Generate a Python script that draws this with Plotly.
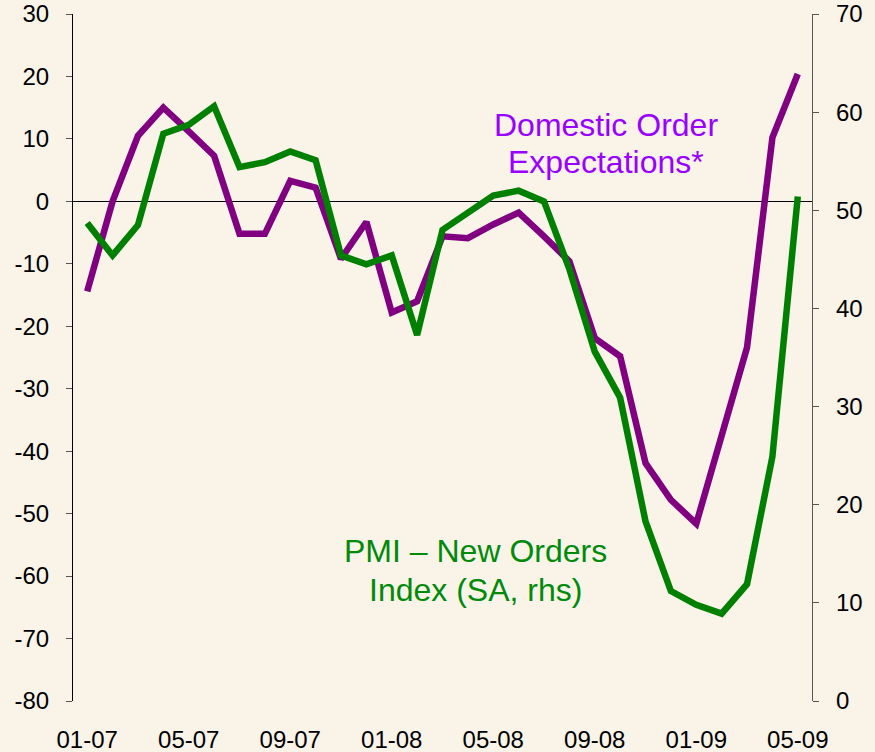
import plotly.graph_objects as go

months = ["01-07","02-07","03-07","04-07","05-07","06-07","07-07","08-07","09-07","10-07",
          "11-07","12-07","01-08","02-08","03-08","04-08","05-08","06-08","07-08","08-08",
          "09-08","10-08","11-08","12-08","01-09","02-09","03-09","04-09","05-09"]

domestic_expectations = [-14.4, 0.0, 10.5, 15.0, 11.2, 7.3, -5.2, -5.2, 3.3, 2.2,
                         -9.2, -3.3, -17.8, -16.0, -5.6, -5.9, -3.7, -1.8, -5.6, -9.6,
                         -21.9, -24.8, -41.9, -47.8, -51.6, -37.1, -23.4, 10.2, 20.4]

pmi_new_orders = [48.7, 45.4, 48.5, 57.8, 58.7, 60.6, 54.4, 54.9, 56.0, 55.1,
                  45.4, 44.5, 45.4, 37.3, 48.0, 49.8, 51.5, 52.0, 50.9, 44.0,
                  35.6, 30.9, 18.3, 11.2, 9.8, 8.9, 11.9, 24.9, 51.4]

tick_labels = ["01-07","05-07","09-07","01-08","05-08","09-08","01-09","05-09"]
left_ticks = [30, 20, 10, 0, -10, -20, -30, -40, -50, -60, -70, -80]
right_ticks = [70, 60, 50, 40, 30, 20, 10, 0]

x_idx = list(range(len(months)))
label_pos = [months.index(t) for t in tick_labels]
boundary_ticks = [p + 3.5 for p in label_pos[:-1]]

BG = "#F9F3E8"
FONT = "Arial, Liberation Sans, sans-serif"
PURPLE = "#800080"
GREEN = "#008000"

fig = go.Figure()
fig.add_trace(go.Scatter(x=x_idx, y=pmi_new_orders, mode="lines", yaxis="y2",
                         line=dict(color=GREEN, width=6.5), showlegend=False))
fig.add_trace(go.Scatter(x=x_idx, y=domestic_expectations, mode="lines",
                         line=dict(color=PURPLE, width=6.5), showlegend=False))

xr = [-0.56, 28.56]
fig.update_layout(
    width=875, height=752,
    paper_bgcolor=BG, plot_bgcolor=BG,
    margin=dict(l=73, r=63, t=14, b=51, autoexpand=False),
    font=dict(family=FONT, size=24, color="#000000"),
    xaxis=dict(range=xr, tickmode="array", tickvals=label_pos, ticktext=tick_labels,
               showgrid=False, zeroline=False, showline=False, ticks="",
               ticklabelstandoff=22, tickfont=dict(size=24), automargin=False),
    xaxis2=dict(range=xr, overlaying="x", anchor="free", position=80/110,
                tickmode="array", tickvals=boundary_ticks, showticklabels=False,
                ticks="outside", ticklen=7, tickcolor="#555555", tickwidth=1,
                showgrid=False, zeroline=False, showline=False, automargin=False),
    yaxis=dict(range=[-80, 30], tickmode="array", tickvals=left_ticks,
               ticktext=[str(v) for v in left_ticks], showgrid=False,
               zeroline=True, zerolinecolor="#000000", zerolinewidth=1.2,
               showline=True, linecolor="#000000", linewidth=1.2,
               ticks="outside", ticklen=6, tickcolor="#555555",
               ticklabelstandoff=12, tickfont=dict(size=24), automargin=False),
    yaxis2=dict(range=[0, 70], tickmode="array", tickvals=right_ticks,
                ticktext=[str(v) for v in right_ticks], overlaying="y", side="right",
                showgrid=False, zeroline=False,
                showline=True, linecolor="#555555", linewidth=1.2,
                ticks="outside", ticklen=6, tickcolor="#555555",
                ticklabelstandoff=12, tickfont=dict(size=24), automargin=False),
    annotations=[
        dict(text="Domestic Order", xref="paper", yref="paper", x=0.721, y=0.839,
             xanchor="center", yanchor="middle", showarrow=False,
             font=dict(size=32, color="#9900FF", family=FONT)),
        dict(text="Expectations*", xref="paper", yref="paper", x=0.721, y=0.785,
             xanchor="center", yanchor="middle", showarrow=False,
             font=dict(size=32, color="#9900FF", family=FONT)),
        dict(text="PMI – New Orders", xref="paper", yref="paper", x=0.545, y=0.218,
             xanchor="center", yanchor="middle", showarrow=False,
             font=dict(size=32, color="#008A0A", family=FONT)),
        dict(text="Index (SA, rhs)", xref="paper", yref="paper", x=0.545, y=0.162,
             xanchor="center", yanchor="middle", showarrow=False,
             font=dict(size=32, color="#008A0A", family=FONT)),
    ],
)

fig.write_html(
    "out.html",
    config={"displayModeBar": False},
    post_script=("document.body.style.margin='0';"
                 "document.body.style.overflow='hidden';"
                 "document.body.style.backgroundColor='" + BG + "';"),
)
